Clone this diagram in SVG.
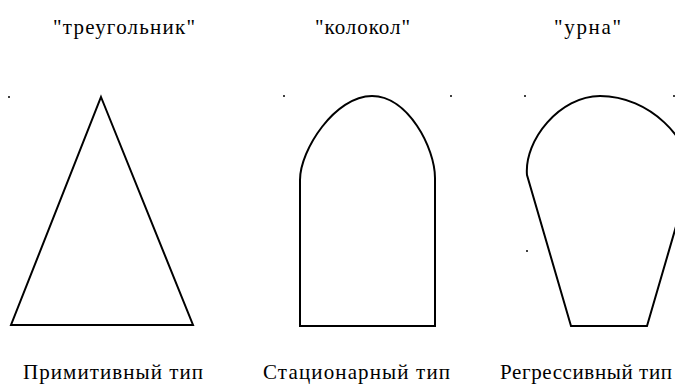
<svg xmlns="http://www.w3.org/2000/svg" width="675" height="385" viewBox="0 0 675 385">
<style>
.shape{fill:none;stroke:#000;stroke-width:2;stroke-linejoin:miter}
.dot{fill:#000}
.title{font-family:"Liberation Serif",serif;font-size:21px;fill:#000;text-anchor:start}
.cap{font-family:"Liberation Serif",serif;font-size:21px;fill:#000;text-anchor:start}
</style>
<rect width="675" height="385" fill="#fff"/>
<g id="triangle">
<text class="title" x="53" y="34" textLength="142" lengthAdjust="spacing">"треугольник"</text>
<circle class="dot" cx="9" cy="97" r="1"/>
<polygon class="shape" points="101,97 193,325 11,325"/>
<text class="cap" x="23" y="379" textLength="180" lengthAdjust="spacing">Примитивный тип</text>
</g>
<g id="bell">
<text class="title" x="315" y="34" textLength="95" lengthAdjust="spacing">"колокол"</text>
<circle class="dot" cx="284" cy="96" r="1"/>
<circle class="dot" cx="451" cy="96" r="1"/>
<path class="shape" d="M300,326 L300,180 C300,150 335,96 372,96 C408,96 435,148 435,178 L435,326 Z"/>
<text class="cap" x="263" y="379" textLength="187" lengthAdjust="spacing">Стационарный тип</text>
</g>
<g id="urn">
<text class="title" x="554" y="34" textLength="67" lengthAdjust="spacing">"урна"</text>
<circle class="dot" cx="525" cy="96" r="1"/>
<circle class="dot" cx="527" cy="251" r="1"/>
<circle class="dot" cx="674" cy="96" r="1"/>
<path class="shape" d="M571,326 L527,175 C524,140 560,96 600,96 C650,96 691,140 691,175 L647,326 Z"/>
<text class="cap" x="500" y="379" textLength="172" lengthAdjust="spacing">Регрессивный тип</text>
</g>
<g id="connectors"/>
</svg>
